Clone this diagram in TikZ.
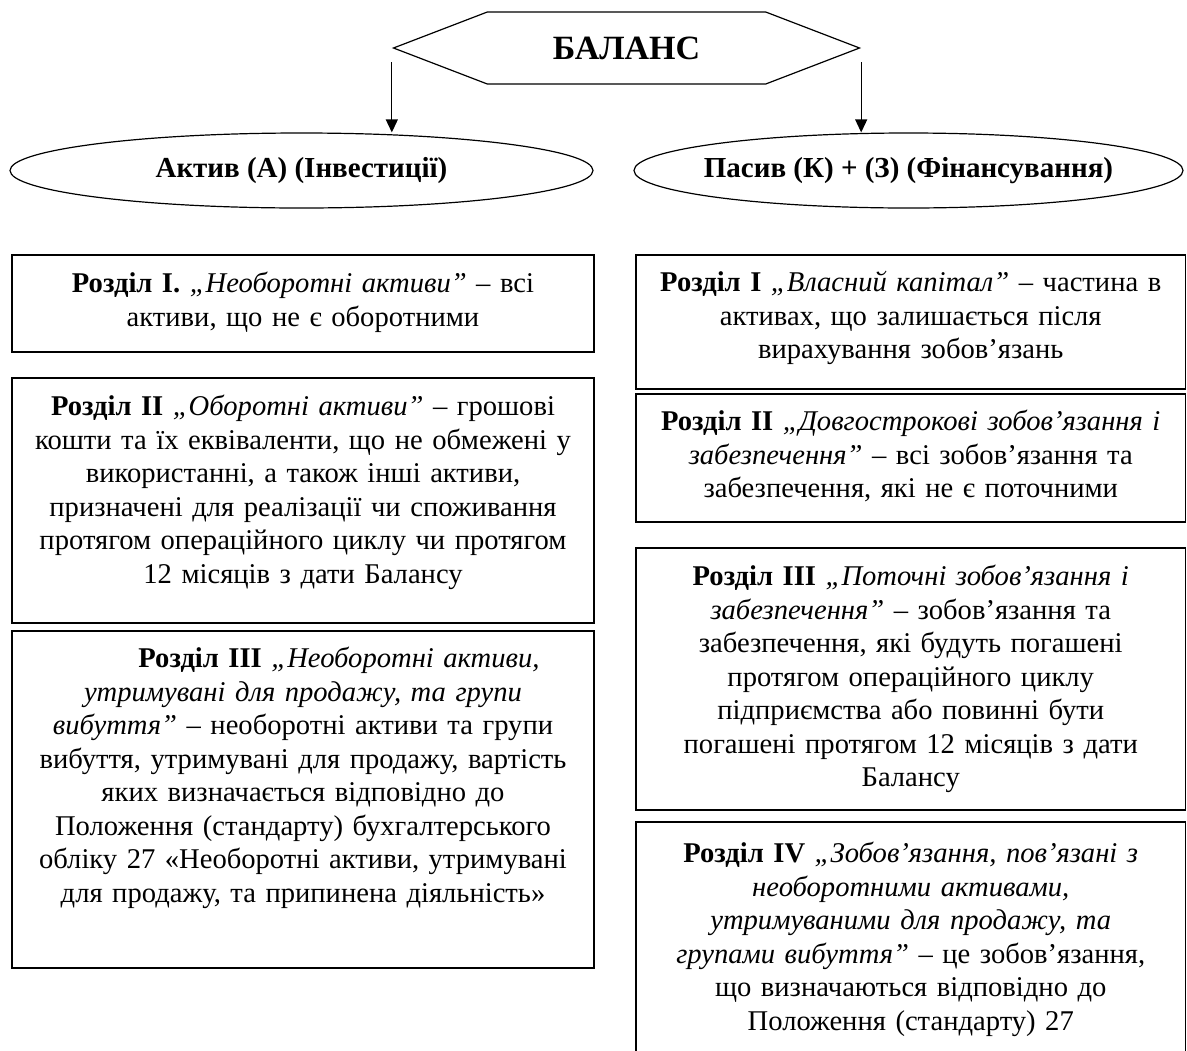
\documentclass[tikz,border=0pt]{standalone}
\usepackage{fontspec}
\setmainfont{Liberation Serif}
\usetikzlibrary{positioning,shapes.geometric,shapes.symbols,arrows.meta}

\begin{document}
\begin{tikzpicture}[x=0.5pt, y=-0.5pt, node distance=4pt,
    hexa/.style={signal, signal to=west and east, signal pointer angle=42, draw, line width=0.6pt, minimum width=233pt, minimum height=36pt, inner sep=0pt, font=\fontsize{17}{20}\selectfont\bfseries},
    oval/.style={ellipse, draw, line width=0.6pt, minimum height=37.5pt, inner xsep=-60pt, inner ysep=0pt, font=\fontsize{14.5}{16.75}\selectfont\bfseries},
    frm/.style={rectangle, draw, line width=0.8pt, inner sep=0pt, outer sep=0pt},
    frml/.style={frm, minimum width=291pt},
    frmr/.style={frm, minimum width=274.75pt},
    txtl/.style={inner sep=0pt, text width=300pt, align=center, font=\fontsize{14.3}{16.75}\selectfont},
    txtr/.style={inner sep=0pt, text width=290pt, align=center, font=\fontsize{14.3}{16.75}\selectfont},
    arr/.style={-{Triangle[length=6.5pt, width=6pt]}, line width=0.6pt}]

    \useasboundingbox (0,0) rectangle (1187,1050);
    \clip (0,0) rectangle (1187,1050);

    \node [hexa] (bal) at (626.5,48) {БАЛАНС};

    \node [oval, minimum width=291.5pt] (akt) at (301.5,170.5) {Актив (А) (Інвестиції)};
    \node [oval, minimum width=274.5pt] (pas) at (908.5,170.5) {Пасив (К) + (З) (Фінансування)};

    \draw [arr] ([yshift=-7pt]bal.west) -- (bal.west |- akt.north);
    \draw [arr] ([yshift=-7pt]bal.east) -- (bal.east |- pas.north);

    % left column
    \node [frml, minimum height=48.5pt] (a1) at (303,303.5) {};
    \node [frml, minimum height=122.5pt, below=13pt of a1] (a2) {};
    \node [frml, minimum height=168.5pt, below=4pt of a2] (a3) {};

    \node [txtl, below=8.5pt of a1.north] (a1t) {\textbf{Розділ І.} \textit{„Необоротні активи”} – всі\\активи, що не є оборотними};
    \node [txtl, below=8.5pt of a2.north] (a2t) {\textbf{Розділ ІІ} \textit{„Оборотні активи”} – грошові\\кошти та їх еквіваленти, що не обмежені у\\використанні, а також інші активи,\\призначені для реалізації чи споживання\\протягом операційного циклу чи протягом\\12 місяців з дати Балансу};
    \node [txtl, below=8pt of a3.north] (a3t) {\hspace*{36pt}\textbf{Розділ ІІІ} \textit{„Необоротні активи,}\\\textit{утримувані для продажу, та групи}\\\textit{вибуття”} – необоротні активи та групи\\вибуття, утримувані для продажу, вартість\\яких визначається відповідно до\\Положення (стандарту) бухгалтерського\\обліку 27 «Необоротні активи, утримувані\\для продажу, та припинена діяльність»};

    % right column
    \node [frmr, minimum height=67pt] (p1) at (910.75,322) {};
    \node [frmr, minimum height=64pt, below=2.5pt of p1] (p2) {};
    \node [frmr, minimum height=131pt, below=13pt of p2] (p3) {};
    \node [frmr, minimum height=129pt, below=6pt of p3] (p4) {};

    \node [txtr, below=8pt of p1.north] (p1t) {\textbf{Розділ І} \textit{„Власний капітал”} – частина в\\активах, що залишається після\\вирахування зобов’язань};
    \node [txtr, below=8pt of p2.north] (p2t) {\textbf{Розділ ІІ} \textit{„Довгострокові зобов’язання і}\\\textit{забезпечення”} – всі зобов’язання та\\забезпечення, які не є поточними};
    \node [txtr, below=8.5pt of p3.north] (p3t) {\textbf{Розділ ІІІ} \textit{„Поточні зобов’язання і}\\\textit{забезпечення”} – зобов’язання та\\забезпечення, які будуть погашені\\протягом операційного циклу\\підприємства або повинні бути\\погашені протягом 12 місяців з дати\\Балансу};
    \node [txtr, below=10pt of p4.north] (p4t) {\textbf{Розділ IV} \textit{„Зобов’язання, пов’язані з}\\\textit{необоротними активами,}\\\textit{утримуваними для продажу, та}\\\textit{групами вибуття”} – це зобов’язання,\\що визначаються відповідно до\\Положення (стандарту) 27};
\end{tikzpicture}
\end{document}
